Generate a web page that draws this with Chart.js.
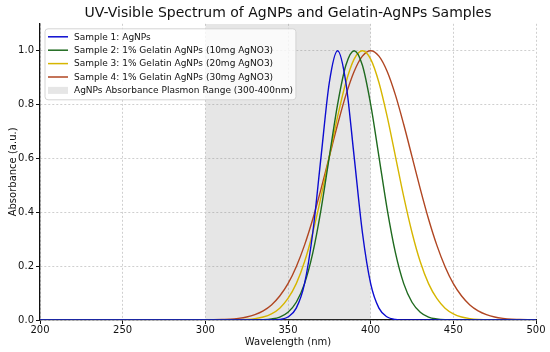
<!DOCTYPE html>
<html>
<head>
<meta charset="utf-8">
<script src="https://cdn.jsdelivr.net/npm/chart.js@4.4.1/dist/chart.umd.min.js"></script>
<style>
  html, body { margin: 0; padding: 0; background: #fff; }
  canvas { display: block; }
</style>
</head>
<body>
<canvas id="uv-chart" width="550" height="352"></canvas>
<script>
// Dados
const wavelengths = [200, 300, 305, 310, 315, 320, 325, 330, 335, 340, 345, 350, 355, 360, 365, 370, 375, 380, 385, 390, 395, 400, 405, 410, 415, 420, 425, 430, 435, 440, 445, 450, 455, 460, 465, 470, 475, 480, 485, 490, 495, 500];

const sample1 = [0, 0, 0, 0, 0, 0, 0, 0, 0, 0, 0.002, 0.011, 0.044, 0.135, 0.325, 0.607, 0.882, 1.0, 0.882, 0.607, 0.325, 0.135, 0.044, 0.011, 0.002, 0, 0, 0, 0, 0, 0, 0, 0, 0, 0, 0, 0, 0, 0, 0, 0, 0];
const sample2 = [0, 0, 0, 0, 0, 0, 0, 0, 0.001, 0.004, 0.011, 0.029, 0.066, 0.135, 0.249, 0.411, 0.607, 0.801, 0.946, 1.0, 0.946, 0.801, 0.607, 0.411, 0.249, 0.135, 0.066, 0.029, 0.011, 0.004, 0.001, 0, 0, 0, 0, 0, 0, 0, 0, 0, 0, 0];
const sample3 = [0, 0, 0, 0, 0, 0.001, 0.002, 0.005, 0.011, 0.023, 0.044, 0.08, 0.135, 0.216, 0.325, 0.458, 0.607, 0.755, 0.882, 0.969, 1.0, 0.969, 0.882, 0.755, 0.607, 0.458, 0.325, 0.216, 0.135, 0.08, 0.044, 0.023, 0.011, 0.005, 0.002, 0.001, 0, 0, 0, 0, 0, 0];
const sample4 = [0, 0, 0.001, 0.002, 0.003, 0.006, 0.011, 0.02, 0.034, 0.056, 0.089, 0.135, 0.198, 0.278, 0.375, 0.487, 0.607, 0.726, 0.835, 0.923, 0.98, 1.0, 0.98, 0.923, 0.835, 0.726, 0.607, 0.487, 0.375, 0.278, 0.198, 0.135, 0.089, 0.056, 0.034, 0.02, 0.011, 0.006, 0.003, 0.002, 0.001, 0];

const plasmonRange = [300, 400];

const seriesLabels = [
  "Sample 1: AgNPs",
  "Sample 2: 1% Gelatin AgNPs (10mg AgNO3)",
  "Sample 3: 1% Gelatin AgNPs (20mg AgNO3)",
  "Sample 4: 1% Gelatin AgNPs (30mg AgNO3)",
];
const rangeLabel = "AgNPs Absorbance Plasmon Range (300-400nm)";

const xTicks = [200, 250, 300, 350, 400, 450, 500];
const yTicks = [0, 0.2, 0.4, 0.6, 0.8, 1.0];

const FONT = "'DejaVu Sans', sans-serif";
const colors = ["#0c0cd0", "#1f6a1f", "#d6b600", "#b04622"];
const shadeColor = "rgba(128, 128, 128, 0.2)";
const Y_MAX = 1.1;

Chart.defaults.font.family = FONT;
Chart.defaults.color = "#111";

// =========================================================
// Legenda dentro da área do gráfico (estilo matplotlib)
// =========================================================
const innerLegend = {
  id: "innerLegend",
  afterDatasetsDraw(chart) {
    const { ctx, chartArea } = chart;
    const x0 = chartArea.left + 5;
    const y0 = chartArea.top + 5;
    const rowH = 13.4;
    const items = chart.data.datasets;
    ctx.save();
    ctx.font = "9px " + FONT;
    let maxW = 0;
    items.forEach((d) => { maxW = Math.max(maxW, ctx.measureText(d.label).width); });
    const w = 29 + maxW + 3;
    const h = rowH * items.length + 4;
    ctx.beginPath();
    ctx.roundRect(x0, y0, w, h, 3);
    ctx.fillStyle = "rgba(255,255,255,0.8)";
    ctx.fill();
    ctx.strokeStyle = "#d4d4d4";
    ctx.lineWidth = 1;
    ctx.stroke();

    items.forEach((d, i) => {
      const cy = y0 + 8 + i * rowH;
      if (d.isShade) {
        ctx.fillStyle = shadeColor;
        ctx.fillRect(x0 + 3, cy - 3.5, 20, 7);
      } else {
        ctx.beginPath();
        ctx.moveTo(x0 + 3, cy);
        ctx.lineTo(x0 + 23, cy);
        ctx.strokeStyle = d.borderColor;
        ctx.lineWidth = 1.5;
        ctx.stroke();
      }
      ctx.fillStyle = "#111";
      ctx.textBaseline = "middle";
      ctx.textAlign = "left";
      ctx.fillText(d.label, x0 + 29, cy + 0.5);
    });
    ctx.restore();
  },
};

function toPoints(ys) {
  return wavelengths.map((w, i) => ({ x: w, y: ys[i] }));
}

const curveData = [sample1, sample2, sample3, sample4];

const datasets = curveData.map((ys, i) => ({
  label: seriesLabels[i],
  data: toPoints(ys),
  borderColor: colors[i],
  borderWidth: 1.4,
  pointRadius: 0,
  fill: false,
  cubicInterpolationMode: "monotone",
  order: 0,
}));

datasets.push({
  label: rangeLabel,
  isShade: true,
  data: plasmonRange.map((x) => ({ x: x, y: Y_MAX })),
  borderWidth: 0,
  borderColor: "rgba(0,0,0,0)",
  backgroundColor: shadeColor,
  pointRadius: 0,
  fill: "origin",
  order: 1,
});

const gridOpts = { color: "#cfcfcf", tickLength: 4, tickColor: "#111", tickBorderDash: [] };
const borderOpts = { display: true, color: "#111", width: 1.3, dash: [2, 2] };

new Chart(document.getElementById("uv-chart"), {
  type: "line",
  data: { datasets: datasets },
  plugins: [innerLegend],
  options: {
    responsive: false,
    animation: false,
    layout: { padding: { left: 0, right: 14, top: 0, bottom: 0 } },
    plugins: {
      legend: { display: false },
      tooltip: { enabled: false },
      title: {
        display: true,
        text: "UV-Visible Spectrum of AgNPs and Gelatin-AgNPs Samples",
        fullSize: false,
        color: "#111",
        font: { size: 14, weight: "normal", family: FONT },
        padding: { top: 5, bottom: 2 },
      },
    },
    scales: {
      x: {
        type: "linear",
        min: 200,
        max: 500,
        afterBuildTicks: (scale) => { scale.ticks = xTicks.map((v) => ({ value: v })); },
        afterFit: (scale) => { scale.height = 32; },
        ticks: { font: { size: 10 }, padding: 0, maxRotation: 0, callback: (v) => String(v) },
        grid: gridOpts,
        border: borderOpts,
        title: { display: true, text: "Wavelength (nm)", font: { size: 10 }, padding: { top: 0, bottom: 4 } },
      },
      y: {
        min: 0,
        max: Y_MAX,
        afterBuildTicks: (scale) => { scale.ticks = yTicks.map((v) => ({ value: v })); },
        afterFit: (scale) => { scale.width = 40; },
        ticks: { font: { size: 10 }, padding: 2, callback: (v) => v.toFixed(1) },
        grid: gridOpts,
        border: borderOpts,
        title: { display: true, text: "Absorbance (a.u.)", font: { size: 10 }, padding: { top: 7, bottom: 0 } },
      },
    },
  },
});
</script>
</body>
</html>
